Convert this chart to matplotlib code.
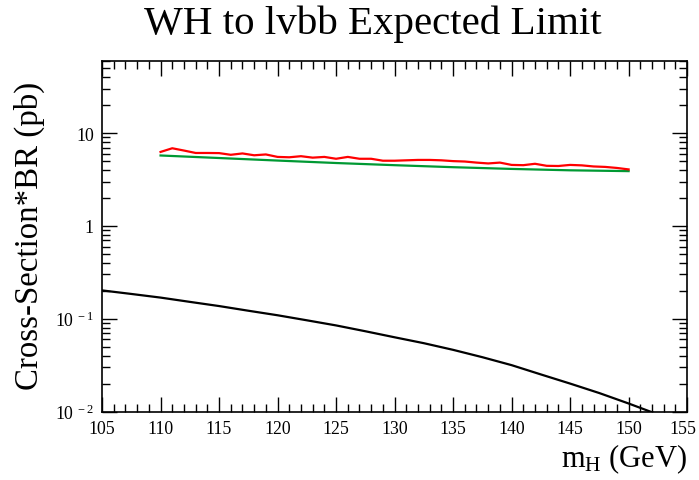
import matplotlib.pyplot as plt
from matplotlib.ticker import FixedLocator, LogLocator, NullFormatter
from matplotlib.transforms import ScaledTranslation

plt.rcParams['font.family'] = 'Liberation Serif'
plt.rcParams['mathtext.fontset'] = 'custom'
plt.rcParams['mathtext.rm'] = 'Liberation Serif'
plt.rcParams['mathtext.it'] = 'Liberation Serif:italic'

# expected limit (red), 1 GeV steps
mass_limit = list(range(110, 151))
limit_exp = [6.28, 6.88, 6.50, 6.12, 6.12, 6.10, 5.85, 6.05, 5.78, 5.90,
             5.55, 5.50, 5.65, 5.45, 5.55, 5.30, 5.55, 5.30, 5.30, 5.05,
             5.05, 5.10, 5.15, 5.15, 5.10, 5.00, 4.95, 4.82, 4.72, 4.82,
             4.55, 4.52, 4.68, 4.45, 4.43, 4.55, 4.50, 4.38, 4.33, 4.22,
             4.07]

# smoothed limit (green)
mass_smooth = [110, 115, 120, 125, 130, 135, 140, 145, 150]
limit_smooth = [5.75, 5.40, 5.07, 4.77, 4.52, 4.30, 4.12, 3.98, 3.90]

# theory cross-section * BR (black), 2.5 GeV steps
mass_theory = [105, 107.5, 110, 112.5, 115, 117.5, 120, 122.5, 125, 127.5,
               130, 132.5, 135, 137.5, 140, 142.5, 145, 147.5, 150, 152.5,
               155]
xsec_theory = [0.202, 0.185, 0.169, 0.152, 0.137, 0.122, 0.109, 0.0962,
               0.0847, 0.0733, 0.0631, 0.0545, 0.0462, 0.0385, 0.0316,
               0.0251, 0.0200, 0.0158, 0.0122, 0.0093, 0.0069]

fig = plt.figure(figsize=(6.99, 4.81), dpi=100)
ax = fig.add_axes([0.146, 0.1424, 0.837, 0.7287])

ax.plot(mass_theory, xsec_theory, color='black', lw=1.6)
ax.plot(mass_smooth, limit_smooth, color='#009933', lw=1.6)
ax.plot(mass_limit, limit_exp, color='red', lw=1.6)

ax.set_yscale('log')
ax.set_xlim(105, 155)
ax.set_ylim(0.01, 60)

ax.xaxis.set_major_locator(FixedLocator(range(105, 156, 5)))
ax.xaxis.set_minor_locator(FixedLocator(range(105, 156, 1)))
ax.yaxis.set_major_locator(FixedLocator([0.01, 0.1, 1, 10]))
ax.yaxis.set_minor_locator(LogLocator(base=10, subs=range(2, 10)))
ax.yaxis.set_minor_formatter(NullFormatter())
ax.set_yticklabels([r'10$^{\,\,-2}$', r'10$^{\,\,-1}$', '1', '10'])

ax.tick_params(which='both', direction='in', top=True, right=True,
               labelsize=12.8, width=1, color='black')
ax.tick_params(which='major', length=11, pad=6)
ax.tick_params(which='minor', length=6)
for s in ax.spines.values():
    s.set_linewidth(1.2)

# keep the last x label inside the canvas
last = ax.get_xticklabels()[-1]
last.set_transform(last.get_transform() + ScaledTranslation(-3 / 72, 0, fig.dpi_scale_trans))

fig.text(0.534, 0.949, 'WH to lvbb Expected Limit', fontsize=29.5,
         ha='center', va='center')
fig.text(0.983, 0.046, r'm$_{\rm H}$ (GeV)', fontsize=22,
         ha='right', va='center')
fig.text(0.042, 0.51, 'Cross-Section*BR (pb)', fontsize=23.7,
         rotation=90, ha='center', va='center')

fig.savefig('out.png', dpi=100)
